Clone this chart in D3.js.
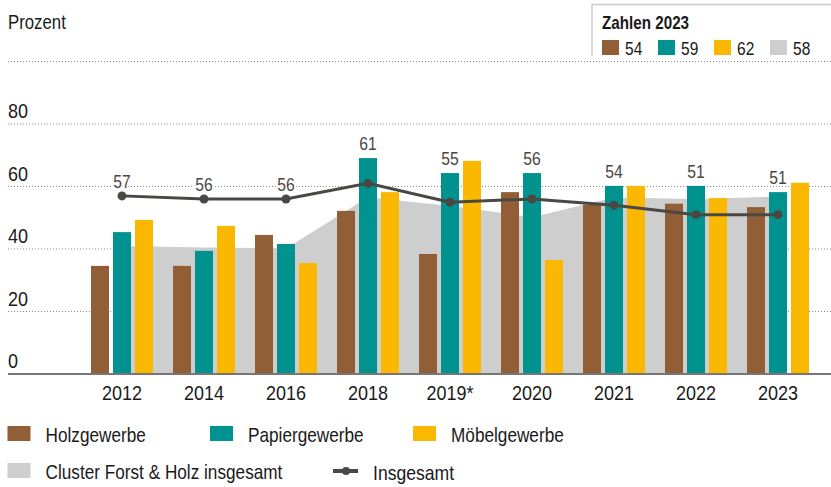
<!DOCTYPE html>
<html>
<head>
<meta charset="utf-8">
<script src="https://cdn.jsdelivr.net/npm/d3@7"></script>
<style>
  html, body { margin: 0; padding: 0; background: #fff; }
  svg { display: block; }
  text { font-family: 'Liberation Sans', Arial, sans-serif; }
</style>
</head>
<body>
<svg id="chart" width="831" height="487"></svg>
<script>
// ---- data ----
const years = ["2012", "2014", "2016", "2018", "2019*", "2020", "2021", "2022", "2023"];
const holzgewerbe   = [34.6, 34.6, 44.5, 52.2, 38.4, 58.2, 54.2, 54.5, 53.4];
const papiergewerbe = [45.4, 39.4, 41.6, 69.1, 64.3, 64.3, 60.2, 60.2, 58.2];
const moebelgewerbe = [49.3, 47.4, 35.5, 58.2, 68.2, 36.5, 60.2, 56.3, 61.2];
const clusterGesamt = [41.0, 40.5, 40.2, 56.6, 53.8, 50.2, 56.5, 56.0, 56.8];
const insgesamt     = [57, 56, 56, 61, 55, 56, 54, 51, 51];
const yTicks = [0, 20, 40, 60, 80];
const seriesNames = ["Holzgewerbe", "Papiergewerbe", "Möbelgewerbe"];
const clusterName = "Cluster Forst & Holz insgesamt";
const lineName = "Insgesamt";
const legendTitle = "Zahlen 2023";
const legend2023 = ["54", "59", "62", "58"];
const yAxisTitle = "Prozent";

// ---- styles ----
const colors = { holz: "#915e36", papier: "#00928f", moebel: "#fab800", cluster: "#cdcecd", line: "#4a4843" };
const barColors = [colors.holz, colors.papier, colors.moebel];
const WORD_SX = 0.86, NUM_SX = 0.9;
const svg = d3.select("#chart");
const tf = (x, yy, sx) => `translate(${x},${yy}) scale(${sx},1)`;

const x0 = d3.scaleBand().domain(years).range([81, 819]).padding(0);
const x1 = d3.scaleBand().domain(seriesNames).range([10, 72]).paddingInner(0.182).paddingOuter(0);
const y = d3.scaleLinear().domain([0, 100]).range([374, 61.5]);
const cx = d => x0(d) + x0.bandwidth() / 2;

// gridlines (incl. 100 without label)
const gridVals = yTicks.filter(v => v > 0).concat([100]);
svg.append("g").selectAll("line").data(gridVals).join("line")
  .attr("x1", 8).attr("x2", 831)
  .attr("y1", d => y(d)).attr("y2", d => y(d))
  .attr("stroke", "#8a8a8a").attr("stroke-width", 1)
  .attr("stroke-dasharray", "1,2");

// y tick labels
svg.append("g").selectAll("text").data(yTicks).join("text")
  .attr("transform", d => tf(8, y(d) - 6, NUM_SX))
  .attr("font-size", 20).attr("fill", "#1a1a1a")
  .text(d => d);

svg.append("text").attr("transform", tf(8, 29, 0.84))
  .attr("font-size", 20).attr("fill", "#1a1a1a").text(yAxisTitle);

// cluster area
const area = d3.area().x((d, i) => cx(years[i])).y0(y(0)).y1(d => y(d));
svg.append("path").datum(clusterGesamt).attr("d", area).attr("fill", colors.cluster);

// bars
const seriesData = [holzgewerbe, papiergewerbe, moebelgewerbe];
const groups = svg.append("g").selectAll("g").data(years).join("g")
  .attr("transform", d => `translate(${x0(d)},0)`);
groups.selectAll("rect")
  .data((d, i) => seriesNames.map((s, k) => ({ s, v: seriesData[k][i], k })))
  .join("rect")
  .attr("x", d => x1(d.s)).attr("width", x1.bandwidth())
  .attr("y", d => y(d.v)).attr("height", d => y(0) - y(d.v))
  .attr("fill", d => barColors[d.k]);

// baseline axis
svg.append("line").attr("x1", 8).attr("x2", 831).attr("y1", y(0)).attr("y2", y(0))
  .attr("stroke", "#777").attr("stroke-width", 2);

// x axis labels
svg.append("g").selectAll("text").data(years).join("text")
  .attr("transform", d => tf(cx(d), 400, NUM_SX)).attr("text-anchor", "middle")
  .attr("font-size", 20).attr("fill", "#1a1a1a").text(d => d);

// line
const line = d3.line().x((d, i) => cx(years[i])).y(d => y(d));
svg.append("path").datum(insgesamt).attr("d", line)
  .attr("fill", "none").attr("stroke", colors.line).attr("stroke-width", 3);
svg.append("g").selectAll("circle").data(insgesamt).join("circle")
  .attr("cx", (d, i) => cx(years[i])).attr("cy", d => y(d)).attr("r", 4.5)
  .attr("fill", colors.line);

// line labels
svg.append("g").selectAll("text").data(insgesamt).join("text")
  .attr("transform", (d, i) => tf(cx(years[i]), Math.min(y(d), y(papiergewerbe[i])) - 8, 0.87))
  .attr("text-anchor", "middle").attr("font-size", 18)
  .attr("fill", colors.line)
  .attr("stroke", "#fff").attr("stroke-width", 4).attr("paint-order", "stroke")
  .text(d => d);

// top-right legend box
svg.append("path").attr("d", "M592,56 V4.5 H831")
  .attr("fill", "none").attr("stroke", "#cccccc").attr("stroke-width", 1.5);
svg.append("text").attr("transform", tf(602, 29, 0.845)).attr("font-size", 18)
  .attr("font-weight", "bold").attr("fill", "#1a1a1a").text(legendTitle);
const topLegColors = [colors.holz, colors.papier, colors.moebel, colors.cluster];
const tl = svg.append("g").selectAll("g").data(legend2023).join("g")
  .attr("transform", (d, i) => `translate(${602 + i * 56},40)`);
tl.append("rect").attr("width", 17).attr("height", 15).attr("fill", (d, i) => topLegColors[i]);
tl.append("text").attr("transform", tf(23, 14.5, 0.84)).attr("font-size", 18.5)
  .attr("fill", "#1a1a1a").text(d => d);

// bottom legend
const legRow1 = [
  { name: seriesNames[0], color: colors.holz, x: 7.5 },
  { name: seriesNames[1], color: colors.papier, x: 210 },
  { name: seriesNames[2], color: colors.moebel, x: 413 }
];
const lg1 = svg.append("g").selectAll("g").data(legRow1).join("g")
  .attr("transform", d => `translate(${d.x},426)`);
lg1.append("rect").attr("width", 23).attr("height", 15).attr("fill", d => d.color);
lg1.append("text").attr("transform", tf(38, 15.5, WORD_SX)).attr("font-size", 20)
  .attr("fill", "#1a1a1a").text(d => d.name);

const lg2 = svg.append("g").attr("transform", "translate(7.5,463)");
lg2.append("rect").attr("width", 23).attr("height", 15).attr("fill", colors.cluster);
lg2.append("text").attr("transform", tf(38, 15.5, WORD_SX)).attr("font-size", 20)
  .attr("fill", "#1a1a1a").text(clusterName);

const lg3 = svg.append("g").attr("transform", "translate(333,471)");
lg3.append("line").attr("x1", 0).attr("x2", 25).attr("y1", 0).attr("y2", 0)
  .attr("stroke", colors.line).attr("stroke-width", 4);
lg3.append("circle").attr("cx", 13).attr("cy", 0).attr("r", 4).attr("fill", colors.line);
lg3.append("text").attr("transform", tf(40, 8.5, 0.88)).attr("font-size", 20)
  .attr("fill", "#1a1a1a").text(lineName);
</script>
</body>
</html>
